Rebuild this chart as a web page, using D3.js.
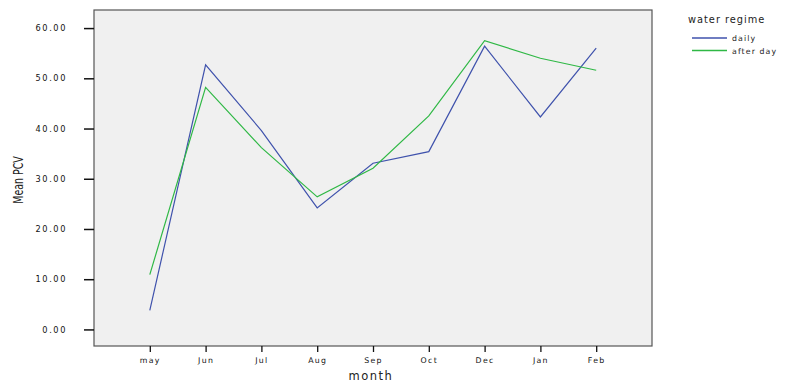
<!DOCTYPE html>
<html>
<head>
<meta charset="utf-8">
<script src="https://cdn.jsdelivr.net/npm/d3@7"></script>
<style>
body{margin:0;background:#fff;}
svg text{font-family:"DejaVu Sans",sans-serif;fill:#222;}
</style>
</head>
<body>
<div id="chart"></div>
<script>
var months = ["may","Jun","Jul","Aug","Sep","Oct","Dec","Jan","Feb"];
var daily = [3.8, 52.7, 39.6, 24.2, 33.1, 35.4, 56.4, 42.3, 56.0];
var afterDay = [10.9, 48.2, 36.2, 26.4, 32.1, 42.5, 57.5, 54.0, 51.6];
var yTicks = [0, 10, 20, 30, 40, 50, 60];
var seriesNames = ["daily","after day"];
var seriesColors = ["#3f52ac","#2fb845"];

var W = 800, H = 391;
var plotL = 94, plotT = 10, plotR = 652, plotB = 346;

var svg = d3.select("#chart").append("svg")
			.attr("width", W).attr("height", H);

var x = d3.scalePoint().domain(months).range([plotL, plotR]).padding(1);
var y = d3.scaleLinear().domain([-3.3, 63.6]).range([plotB, plotT]);

// plot area
svg.append("rect").attr("x", plotL).attr("y", plotT)
	.attr("width", plotR - plotL).attr("height", plotB - plotT)
	.style("fill","#f0f0f0").style("stroke","#555").style("stroke-width",1.2);

// y axis
var yAxis = d3.axisLeft(y).tickValues(yTicks).tickSize(10).tickPadding(17)
			.tickFormat(d3.format(".2f"));
var gy = svg.append("g").attr("transform","translate(" + plotL + ",0)").call(yAxis);
gy.select(".domain").remove();
gy.selectAll(".tick line").style("stroke","#111").style("stroke-width",1.5);
gy.selectAll(".tick text").style("font-size","8.2px").style("letter-spacing","1.6px")
	.style("fill","#111");

// x axis
var xAxis = d3.axisBottom(x).tickSize(6).tickPadding(5);
var gx = svg.append("g").attr("transform","translate(0," + plotB + ")").call(xAxis);
gx.select(".domain").remove();
gx.selectAll(".tick line").style("stroke","#111").style("stroke-width",1.3);
gx.selectAll(".tick text").style("font-size","7.8px").style("letter-spacing","1.3px")
	.style("fill","#111");

// axis titles
svg.append("text").attr("x", 371).attr("y", 380).attr("text-anchor","middle")
	.style("font-size","11.5px").style("letter-spacing","1.5px").text("month");
svg.append("text").attr("transform","translate(23,180) rotate(-90) scale(0.75,1)")
	.attr("text-anchor","middle")
	.style("font-family","'Liberation Sans Narrow','DejaVu Sans Condensed',sans-serif")
	.style("font-size","14px").text("Mean PCV");

// lines
var line = d3.line().x(function(d,i){ return x(months[i]); }).y(function(d){ return y(d); });
[daily, afterDay].forEach(function(s, k){
	svg.append("path").datum(s).attr("d", line)
		.style("fill","none").style("stroke", seriesColors[k]).style("stroke-width",1.2);
});

// legend
svg.append("text").attr("x", 688).attr("y", 23)
	.style("font-size","9.8px").style("letter-spacing","1px").text("water regime");
seriesNames.forEach(function(n, k){
	var ly = 38 + k * 12.5;
	svg.append("line").attr("x1", 692).attr("x2", 727).attr("y1", ly).attr("y2", ly)
		.style("stroke", seriesColors[k]).style("stroke-width",1.5);
	svg.append("text").attr("x", 732).attr("y", ly + 3)
		.style("font-size","7.8px").style("letter-spacing","1.1px").text(n);
});
</script>
</body>
</html>
